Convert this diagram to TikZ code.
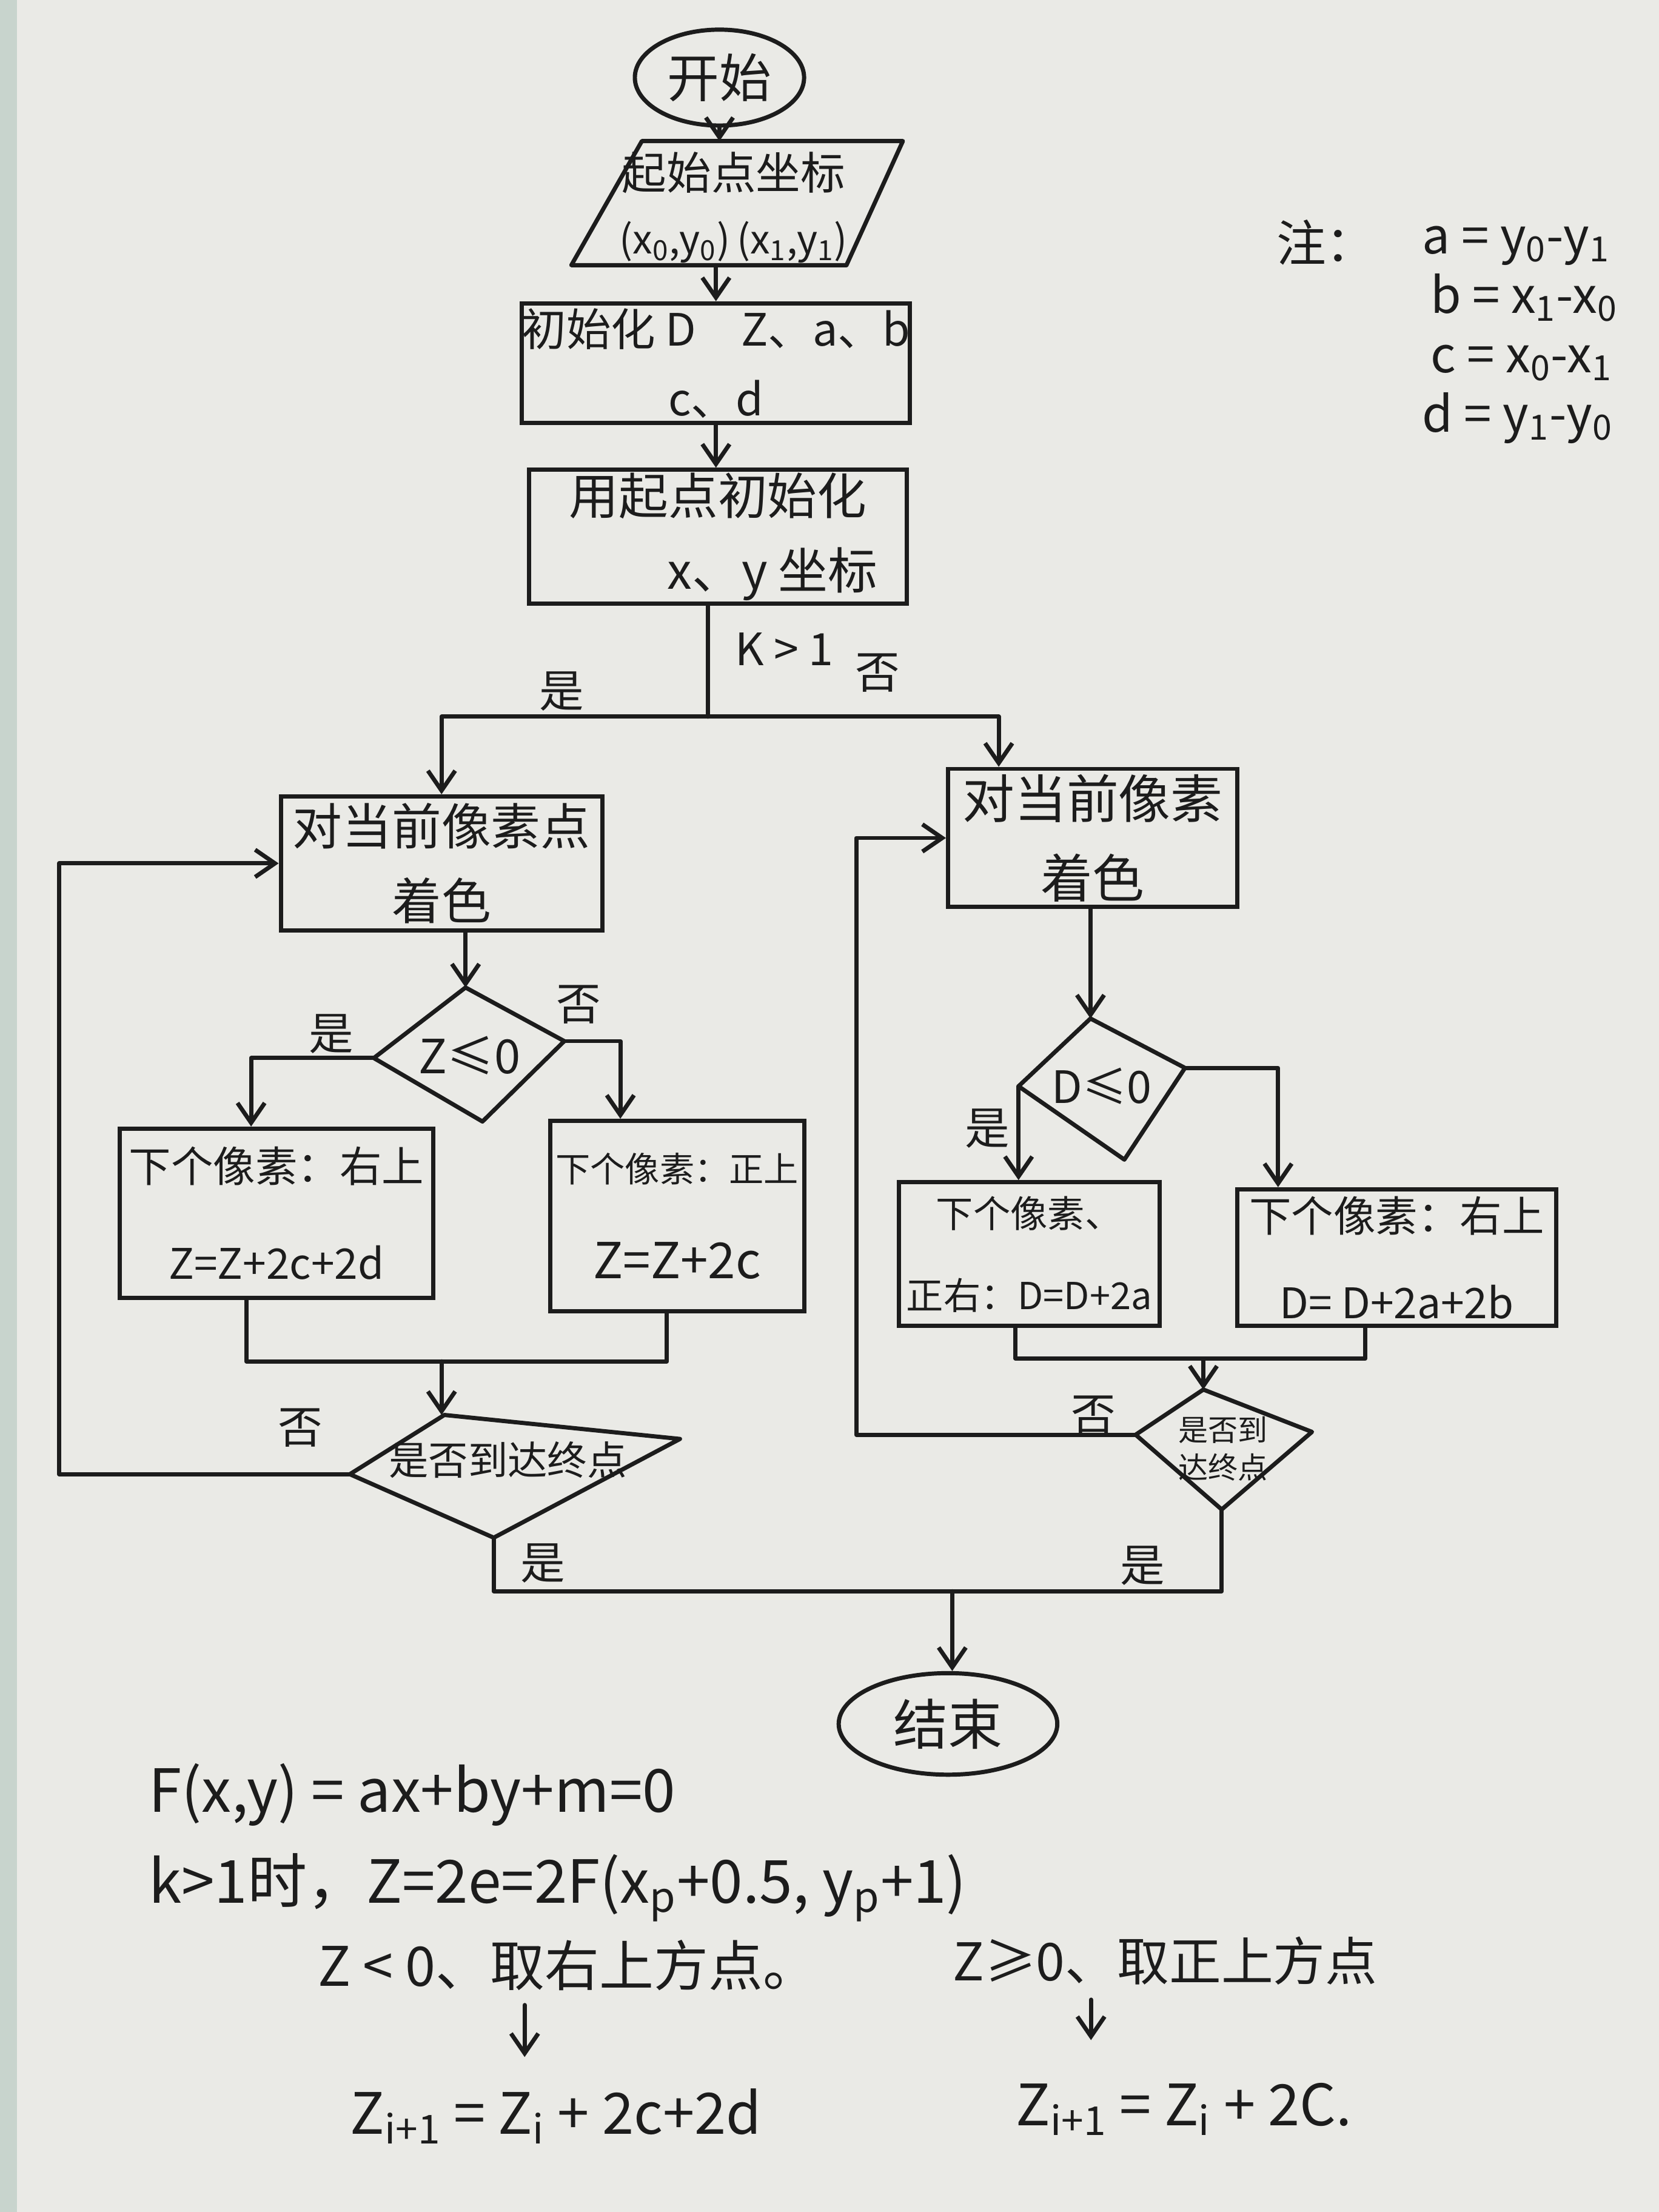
\documentclass[tikz,border=0pt]{standalone}
\usepackage{fontspec}
\setmainfont{Noto Sans CJK SC}
\usetikzlibrary{arrows.meta,calc,shapes.geometric}
\definecolor{ink}{RGB}{28,28,28}
\definecolor{paper}{RGB}{234,234,230}
\definecolor{edge}{RGB}{200,212,205}
\tikzset{
  arr/.style={-{Straight Barb[length=8pt,width=11pt]}},
  ln/.style={line width=1.7pt, draw=ink, line cap=round, line join=round},
  proc/.style={draw=ink, line width=1.7pt, rectangle, align=center, inner sep=0pt, text=ink},
  term/.style={draw=ink, line width=1.7pt, ellipse, inner sep=0pt, text=ink},
  lbl/.style={text=ink, inner sep=0pt},
}
\newcommand{\fs}[1]{\fontsize{#1}{#1}\selectfont}
\begin{document}
\begin{tikzpicture}[x=0.02cm,y=-0.02cm]
\fill[paper] (0,0) rectangle (1176,1568);
\fill[edge] (0,0) rectangle (12,1568);
\useasboundingbox (0,0) rectangle (1176,1568);

% start
\node[term, minimum width=2.4cm, minimum height=1.36cm, font=\fs{21}] (start) at (510,55) {开始};

% input parallelogram
\coordinate (p1) at (455,100);
\coordinate (p2) at (640,100);
\coordinate (p3) at (600,188);
\coordinate (p4) at (405,188);
\draw[ln] (p1)--(p2)--(p3)--(p4)--cycle;
\node[lbl, align=center, font=\fontsize{18}{26}\selectfont] (inp) at (520,147)
  {起始点坐标\\{\fs{16}(x\textsubscript{0},y\textsubscript{0})\,(x\textsubscript{1},y\textsubscript{1})}};
\draw[ln,arr] (start.south) -- (start.south |- p1);

% init
\node[proc, minimum width=5.5cm, minimum height=1.7cm, font=\fontsize{18}{28}\selectfont] (init) at (507.5,257.5)
  {初始化 D\quad Z、a、b\\c、d};
\draw[ln,arr] (init.north |- p4) -- (init.north);

\node[proc, minimum width=5.36cm, minimum height=1.9cm, font=\fontsize{20}{30}\selectfont] (init2) at (509,380.5)
  {用起点初始化\\\hspace*{2.2em}x、y 坐标};
\draw[ln,arr] (init.south) -- (init.south |- init2.north);

% K>1 branch
\node[proc, minimum width=4.56cm, minimum height=1.9cm, font=\fontsize{20}{30}\selectfont] (L1) at (313,612)
  {对当前像素点\\着色};
\node[proc, minimum width=4.1cm, minimum height=1.96cm, font=\fontsize{21}{32}\selectfont] (R1) at (774.5,594)
  {对当前像素\\着色};
\coordinate (j) at (502,508);
\coordinate (r1in) at ($(R1.north west)!0.18!(R1.north east)$);
\draw[ln] (init2.south -| j) -- (j);
\draw[ln,arr] (j) -| (L1.north);
\draw[ln,arr] (j) -| (r1in);
\node[lbl, font=\fs{18}] (k1) at (556,460) {K > 1};
\node[lbl, font=\fs{18}] (y1) at (398,490) {是};
\node[lbl, font=\fs{18}] (n1) at (622,477) {否};

% D1
\coordinate (d1t) at (330,700);
\coordinate (d1r) at (400,738);
\coordinate (d1b) at (342,795);
\coordinate (d1l) at (265,750);
\draw[ln] (d1t)--(d1r)--(d1b)--(d1l)--cycle;
\node[lbl, font=\fs{19}] (D1) at (333,748) {Z≤0};
\draw[ln,arr] (L1.south -| d1t) -- (d1t);

\node[proc, minimum width=4.44cm, minimum height=2.4cm, font=\fs{17}] (L2) at (196,860)
  {下个像素：右上\\[22pt]Z=Z+2c+2d};
\node[proc, minimum width=3.6cm, minimum height=2.7cm, font=\fs{14}] (L3) at (480,862)
  {下个像素：正上\\[22pt]{\fs{20}Z=Z+2c}};
\coordinate (l2in) at ($(L2.north west)!0.42!(L2.north east)$);
\coordinate (l3in) at ($(L3.north west)!0.28!(L3.north east)$);
\draw[ln,arr] (d1l) -| (l2in);
\draw[ln,arr] (d1r) -| (l3in);
\node[lbl, font=\fs{18}] (y2) at (235,733) {是};
\node[lbl, font=\fs{18}] (n2) at (410,712) {否};

% merge left
\coordinate (m1) at (313,965);
\coordinate (l2out) at ($(L2.south west)!0.405!(L2.south east)$);
\coordinate (l3out) at ($(L3.south west)!0.46!(L3.south east)$);
\draw[ln] (l2out) |- (m1) -| (l3out);

% D2
\coordinate (d2t) at (315,1003);
\coordinate (d2r) at (482,1020);
\coordinate (d2b) at (350,1090);
\coordinate (d2l) at (248,1045);
\draw[ln] (d2t)--(d2r)--(d2b)--(d2l)--cycle;
\node[lbl, font=\fs{16}] (D2) at (360,1035) {是否到达终点};
\draw[ln,arr] (m1) -- (m1 |- d2t);
\draw[ln,arr] (d2l) -- ++(-206,0) |- (L1.west);
\node[lbl, font=\fs{18}] (n3) at (213,1012) {否};

% right branch
\coordinate (d3t) at (773,722);
\coordinate (d3r) at (840,757);
\coordinate (d3b) at (797,822);
\coordinate (d3l) at (722,770);
\draw[ln] (d3t)--(d3r)--(d3b)--(d3l)--cycle;
\node[lbl, font=\fs{18}] (D3) at (781,770) {D≤0};
\draw[ln,arr] (R1.south -| d3t) -- (d3t);

\node[proc, minimum width=3.7cm, minimum height=2.04cm, font=\fs{15}] (R2) at (729.5,889)
  {下个像素、\\[18pt]正右：D=D+2a};
\node[proc, minimum width=4.52cm, minimum height=1.94cm, font=\fs{17}] (R3) at (990,891.5)
  {下个像素：右上\\[18pt]D= D+2a+2b};
\coordinate (r3in) at ($(R3.north west)!0.133!(R3.north east)$);
\draw[ln,arr] (d3l) -- (d3l |- R2.north);
\draw[ln,arr] (d3r) -| (r3in);
\node[lbl, font=\fs{18}] (y3) at (700,800) {是};

% merge right
\coordinate (m2) at (853,963);
\coordinate (r2out) at ($(R2.south west)!0.449!(R2.south east)$);
\coordinate (r3out) at ($(R3.south west)!0.403!(R3.south east)$);
\draw[ln] (r2out) |- (m2) -| (r3out);

% D4
\coordinate (d4t) at (853,985);
\coordinate (d4r) at (930,1015);
\coordinate (d4b) at (866,1070);
\coordinate (d4l) at (805,1017);
\draw[ln] (d4t)--(d4r)--(d4b)--(d4l)--cycle;
\node[lbl, align=center, font=\fontsize{12}{15}\selectfont] (D4) at (867,1027) {是否到\\达终点};
\draw[ln,arr] (m2) -- (m2 |- d4t);
\draw[ln,arr] (d4l) -- ++(-198,0) |- (R1.west);
\node[lbl, font=\fs{18}] (n4) at (775,1003) {否};

% end
\node[term, minimum width=3.1cm, minimum height=1.44cm, font=\fs{22}] (stop) at (672,1222) {结束};
\coordinate (mrg) at (675,1128);
\draw[ln] (d2b) |- (mrg) -| (d4b);
\draw[ln,arr] (mrg) -- (mrg |- stop.north);
\node[lbl, font=\fs{18}] (y4) at (385,1108) {是};
\node[lbl, font=\fs{18}] (y5) at (810,1110) {是};

% note
\node[lbl, font=\fs{20}] (zhu) at (940,172) {注：};
\node[lbl, align=left, anchor=north west, font=\fontsize{20}{24}\selectfont] (note) at (1008,160)
  {a = y\textsubscript{0}-y\textsubscript{1}\\
   \,b = x\textsubscript{1}-x\textsubscript{0}\\
   \,c = x\textsubscript{0}-x\textsubscript{1}\\
   d = y\textsubscript{1}-y\textsubscript{0}};

% bottom formulas
\node[lbl, anchor=west, font=\fs{24}] (f1) at (105,1272) {F(x,y) = ax+by+m=0};
\node[lbl, anchor=west, font=\fs{24}] (f2) at (105,1338) {k>1时，Z=2e=2F(x\textsubscript{p}+0.5, y\textsubscript{p}+1)};
\node[lbl, anchor=west, font=\fs{22}] (c1) at (225,1393) {Z < 0、取右上方点。};
\node[lbl, anchor=west, font=\fs{21}] (c2) at (675,1390) {Z≥0、取正上方点};
\node[lbl, anchor=west, font=\fs{23}] (e1) at (248,1500) {Z\textsubscript{i+1} = Z\textsubscript{i} + 2c+2d};
\node[lbl, anchor=west, font=\fs{23}] (e2) at (720,1495) {Z\textsubscript{i+1} = Z\textsubscript{i} + 2C.};
\coordinate (a1) at ($(c1.south west)!0.414!(c1.south east)+(0,10)$);
\coordinate (a2) at ($(c2.south west)!0.326!(c2.south east)+(0,10)$);
\draw[ln,arr] (a1) -- ($(a1 |- e1.north)+(0,-22)$);
\draw[ln,arr] (a2) -- ($(a2 |- e2.north)+(0,-30)$);
\end{tikzpicture}
\end{document}
